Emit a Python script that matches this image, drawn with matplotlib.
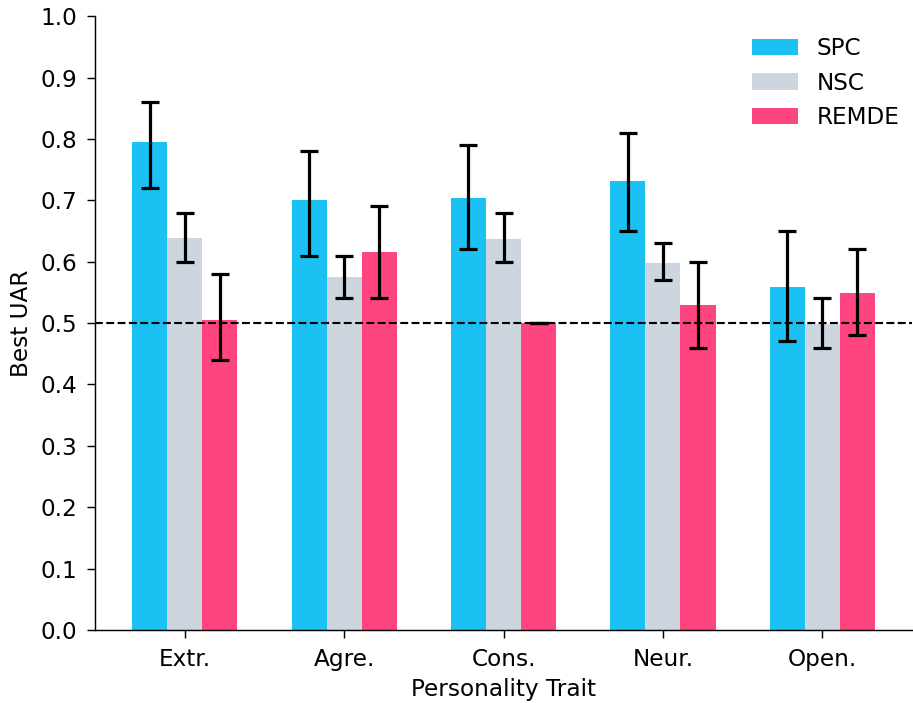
import numpy as np
import matplotlib.pyplot as plt

traits = ['Extr.', 'Agre.', 'Cons.', 'Neur.', 'Open.']
methods = ['SPC', 'NSC', 'REMDE']
colors = ['#1BC1F3', '#CDD6DF', '#FE4580']

# best UAR per method and trait
spc = [0.795, 0.700, 0.704, 0.731, 0.559]
nsc = [0.639, 0.575, 0.637, 0.598, 0.498]
remde = [0.505, 0.616, 0.500, 0.530, 0.549]

# error bar ends (low, high)
spc_lo = [0.72, 0.61, 0.62, 0.65, 0.47]
spc_hi = [0.86, 0.78, 0.79, 0.81, 0.65]
nsc_lo = [0.60, 0.54, 0.60, 0.57, 0.46]
nsc_hi = [0.68, 0.61, 0.68, 0.63, 0.54]
remde_lo = [0.44, 0.54, 0.50, 0.46, 0.48]
remde_hi = [0.58, 0.69, 0.50, 0.60, 0.62]

vals = [spc, nsc, remde]
los = [spc_lo, nsc_lo, remde_lo]
his = [spc_hi, nsc_hi, remde_hi]

fig, ax = plt.subplots(figsize=(913 / 128, 703 / 128), dpi=128)
plt.subplots_adjust(left=0.104, right=0.999, bottom=0.104, top=0.977)

x = np.arange(len(traits))
w = 0.22
for i in range(3):
    v = np.array(vals[i])
    err = [v - np.array(los[i]), np.array(his[i]) - v]
    err = np.clip(err, 0, None)
    ax.bar(x + (i - 1) * w, v, w, color=colors[i], label=methods[i],
           yerr=err, capsize=5.3, error_kw=dict(elinewidth=1.8, capthick=1.8, ecolor='black'))

ax.axhline(0.5, color='black', linestyle='--', linewidth=1.2, zorder=3)
ax.set_ylim(0, 1.0)
ax.set_yticks(np.arange(0, 1.01, 0.1))
ax.set_xticks(x)
ax.set_xticklabels(traits, fontsize=13)
ax.tick_params(axis='both', labelsize=13, length=4.5, pad=5.5)
ax.set_xlabel('Personality Trait', fontsize=13)
ax.set_ylabel('Best UAR', fontsize=13)
ax.spines['top'].set_visible(False)
ax.spines['right'].set_visible(False)
ax.legend(frameon=False, fontsize=13, loc='upper right', bbox_to_anchor=(1.01, 1.0))
plt.savefig('out.png', dpi=128)
